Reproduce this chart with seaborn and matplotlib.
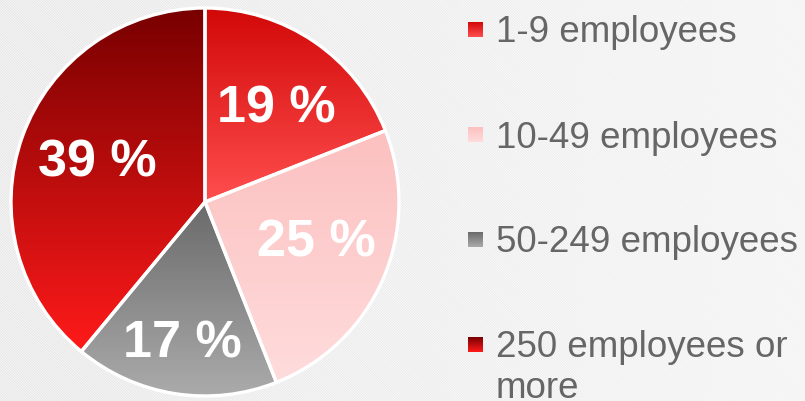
import numpy as np
import matplotlib
matplotlib.use("Agg")
import matplotlib.pyplot as plt
import seaborn as sns
from matplotlib.patches import Rectangle
from matplotlib.colors import to_rgb

# ---- data ----
categories = ["1-9 employees", "10-49 employees", "50-249 employees", "250 employees or\nmore"]
shares = [19, 25, 17, 39]
labels = ["19 %", "25 %", "17 %", "39 %"]
top_colors = ["#d20808", "#fcc0c0", "#6a6a6a", "#780000"]
bottom_colors = ["#ff4e4e", "#ffdcdc", "#ababab", "#ff1a1a"]

# label placement (radial distance, angle offset in degrees)
label_dist = [0.625, 0.60, 0.715, 0.60]
label_dang = [-2.0, 5.7, -0.3, -2.8]

sns.set_theme(style="white")
plt.rcParams['font.family'] = ['Liberation Sans', 'DejaVu Sans']
plt.rcParams['hatch.linewidth'] = 0.9
plt.rcParams['hatch.color'] = '#e6e6e6'

W, H = 805, 401
fig = plt.figure(figsize=(W / 100, H / 100), dpi=100)

# background with diagonal stripes (pixel coordinates, y downwards)
bg = fig.add_axes([0, 0, 1, 1])
bg.set_axis_off()
bg.set_xlim(0, W)
bg.set_ylim(H, 0)
bg.add_patch(Rectangle((0, 0), W, H, facecolor='#ffffff', edgecolor='#e6e6e6',
                       hatch='\\' * 13, lw=0, zorder=0))
# soft white fade towards the right
fade = np.ones((1, 256, 4))
fade[..., 3] = np.linspace(0.0, 0.5, 256)
bg.imshow(fade, extent=[0, W, H, 0], aspect='auto', zorder=1)


def grad(c_top, c_bot, n=256):
    t = np.linspace(0, 1, n)[:, None]
    a = np.array(to_rgb(c_top))[None, :]
    b = np.array(to_rgb(c_bot))[None, :]
    return (a * (1 - t) + b * t)[:, None, :]  # rows top -> bottom


# pie
cx, cy, R = 205, 202, 194
ax = fig.add_axes([(cx - R) / W, (H - cy - R) / H, 2 * R / W, 2 * R / H])
ax.set_axis_off()
wedges, _ = ax.pie(shares, startangle=90, counterclock=False, radius=1,
                   colors=top_colors,
                   wedgeprops=dict(edgecolor='white', linewidth=2.4))
for w, ct, cb in zip(wedges, top_colors, bottom_colors):
    th = np.radians(np.linspace(w.theta1, w.theta2, 200))
    ys = np.concatenate([np.sin(th) * w.r, [0.0]])
    ymin, ymax = ys.min(), ys.max()
    img = grad(ct, cb)
    im = ax.imshow(img, extent=[-1, 1, ymin, ymax], origin='upper',
                   aspect='auto', zorder=w.get_zorder() - 0.5)
    im.set_clip_path(w)
    w.set_facecolor('none')
    w.set_zorder(3)

ax.set_xlim(-1, 1)
ax.set_ylim(-1, 1)

cap_half = 0.5 * 0.716 * 52.5 / R
for w, lab, d, da in zip(wedges, labels, label_dist, label_dang):
    mid = np.radians((w.theta1 + w.theta2) / 2 + da)
    x = d * np.cos(mid)
    y = d * np.sin(mid)
    ax.text(x, y - cap_half, lab, ha='center', va='baseline', color='white',
            fontsize=37.5, fontweight='bold', zorder=5)

# legend
row_centers = [29.5, 134.5, 239.5, 344.5]
line_gap = 40
for cat, ct, cb, rc in zip(categories, top_colors, bottom_colors, row_centers):
    bg.imshow(grad(ct, cb), extent=[468, 483, rc + 7.5, rc - 7.5],
              origin='upper', aspect='auto', zorder=3)
    extra = cat.count('\n')
    bg.text(496, rc + 13 + extra * line_gap, cat, ha='left', va='baseline',
            color='#666666', fontsize=26.5, linespacing=1.21, zorder=4)
bg.set_xlim(0, W)
bg.set_ylim(H, 0)

fig.savefig("out.png", dpi=100)
